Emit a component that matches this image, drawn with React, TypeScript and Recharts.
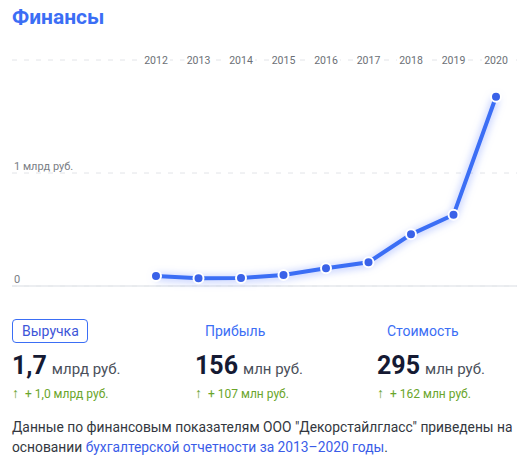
import React from 'react';
import { LineChart, Line, XAxis, YAxis, CartesianGrid, ReferenceLine } from 'recharts';

// Revenue by year, billions of rubles
const years = ['2012', '2013', '2014', '2015', '2016', '2017', '2018', '2019', '2020'];
const revenue = [0.088, 0.068, 0.07, 0.097, 0.157, 0.21, 0.457, 0.63, 1.675];
const yTicks = [0, 1, 2];
const yTickLabels = ['0', '1 млрд руб.', ''];

const tabs = ['Выручка', 'Прибыль', 'Стоимость'];
const totals = ['1,7', '156', '295'];
const units = ['млрд руб.', 'млн руб.', 'млн руб.'];
const deltas = ['+ 1,0 млрд руб.', '+ 107 млн руб.', '+ 162 млн руб.'];

const BLUE = '#3b6ef5';
const FONT = 'Roboto, "Noto Sans", sans-serif';

const data = years.map((year, i) => ({ year, value: revenue[i] }));

const renderYearTick = (props: any) => {
  const { x, y, payload } = props;
  return (
    <g key={'yr' + payload.value}>
      <rect x={x - 14} y={y - 7} width={28} height={14} fill="#fff" />
      <text x={x} y={y} textAnchor="middle" dominantBaseline="central" fontSize={10.5} fill="#6b6f76" fontFamily={FONT}>
        {payload.value}
      </text>
    </g>
  );
};

const renderValueTick = (props: any) => {
  const { x, y, payload } = props;
  const label = yTickLabels[yTicks.indexOf(payload.value)];
  return (
    <text key={'v' + payload.value} x={x + 2} y={y - 3} fontSize={11} fill="#7a7e85" fontFamily={FONT}>
      {label}
    </text>
  );
};

export default function App() {
  const cols = [12, 195, 377];
  return (
    <div style={{ position: 'absolute', left: 0, top: 0, width: 523, height: 462, background: '#fff', fontFamily: FONT }}>
      <style>{`.recharts-line-curve { filter: drop-shadow(0 1px 4px rgba(60,100,255,0.55)); }`}</style>
      <div style={{ position: 'absolute', left: 12, top: 5, fontSize: 21, fontWeight: 700, color: BLUE }}>Финансы</div>

      <div style={{ position: 'absolute', left: 0, top: 0 }}>
        <LineChart width={523} height={300} data={data} margin={{ top: 40, right: 6, bottom: 14, left: 11 }}>
          <CartesianGrid vertical={false} stroke="#e2e4e8" strokeDasharray="5 7" />
          <ReferenceLine y={0} stroke="#e6e9ed" strokeWidth={1.5} />
          <XAxis
            dataKey="year"
            orientation="top"
            height={20}
            axisLine={false}
            tickLine={false}
            tickSize={0}
            tickMargin={0}
            padding={{ left: 144, right: 21 }}
            tick={renderYearTick}
            interval={0}
          />
          <YAxis
            domain={[0, 2]}
            ticks={yTicks}
            width={1}
            axisLine={false}
            tickLine={false}
            tickSize={0}
            tickMargin={0}
            tick={renderValueTick}
          />
          <Line
            type="linear"
            dataKey="value"
            stroke={BLUE}
            strokeWidth={4}
            dot={{ r: 5, fill: '#3a62e8', stroke: '#fff', strokeWidth: 2 }}
            isAnimationActive={false}
          />
        </LineChart>
      </div>

      <div style={{ position: 'absolute', left: 12, top: 319, width: 74, height: 22, border: '1px solid ' + BLUE, borderRadius: 4 }} />
      {tabs.map((t, i) => (
        <div key={t} style={{ position: 'absolute', left: cols[i] + 10, top: 323, fontSize: 14, color: i === 0 ? '#3d55d8' : BLUE }}>
          {t}
        </div>
      ))}
      {totals.map((v, i) => (
        <div key={v} style={{ position: 'absolute', left: cols[i], top: 351, whiteSpace: 'nowrap', color: '#151a33' }}>
          <span style={{ fontSize: 25, fontWeight: 700 }}>{v}</span>
          <span style={{ fontSize: 15, color: '#4a4f5a', marginLeft: 5 }}>{units[i]}</span>
        </div>
      ))}
      {deltas.map((d, i) => (
        <div key={d} style={{ position: 'absolute', left: cols[i], top: 385, fontSize: 12, color: '#6aa52a', whiteSpace: 'nowrap' }}>
          <span style={{ marginRight: 6, fontSize: 14 }}>↑</span>{d}
        </div>
      ))}

      <div style={{ position: 'absolute', left: 12, top: 417, fontSize: 13.8, lineHeight: '20px', color: '#333740', whiteSpace: 'nowrap' }}>
        Данные по финансовым показателям ООО "Декорстайлгласс" приведены на
        <br />
        основании <span style={{ color: '#3a5ce8' }}>бухгалтерской отчетности за 2013–2020 годы</span>.
      </div>
    </div>
  );
}
